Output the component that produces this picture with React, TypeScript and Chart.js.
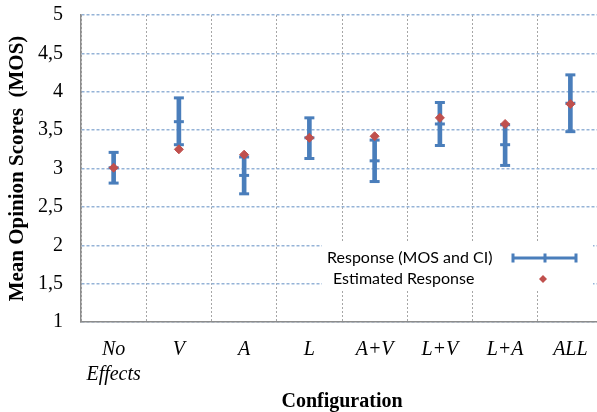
import React, { useEffect, useRef } from 'react';
import { Chart, registerables } from 'chart.js';

Chart.register(...registerables);

const categories: (string | string[])[] = [['No', 'Effects'], 'V', 'A', 'L', 'A+V', 'L+V', 'L+A', 'ALL'];
const mosMean = [3.01, 3.61, 2.91, 3.4, 3.1, 3.58, 3.31, 3.85];
const ciLower = [2.81, 3.31, 2.67, 3.13, 2.83, 3.3, 3.04, 3.48];
const ciUpper = [3.21, 3.92, 3.15, 3.66, 3.37, 3.86, 3.57, 4.22];
const estimated = [3.01, 3.25, 3.18, 3.4, 3.42, 3.66, 3.58, 3.84];
const yMin = 1;
const yMax = 5;
const yStep = 0.5;
const legendLabels = ['Response (MOS and CI)', 'Estimated Response'];

const BLUE = '#4A7EBB';
const RED = '#C0504D';
const SERIF = "'Liberation Serif'";

const legendPlugin = {
  id: 'customLegend',
  afterDraw(chart: any) {
    const ctx = chart.ctx;
    ctx.save();
    ctx.fillStyle = '#ffffff';
    ctx.fillRect(322, 243, 271, 46);
    ctx.fillStyle = '#000';
    ctx.font = '16px Lato, "Noto Sans", sans-serif';
    ctx.textBaseline = 'middle';
    ctx.textAlign = 'left';
    ctx.fillText(legendLabels[0], 327, 258);
    ctx.fillText(legendLabels[1], 333, 279);
    // error bar symbol
    ctx.strokeStyle = BLUE;
    ctx.lineWidth = 3;
    ctx.beginPath();
    ctx.moveTo(513, 258);
    ctx.lineTo(576, 258);
    [513, 545, 576].forEach((cx) => {
      ctx.moveTo(cx, 253.5);
      ctx.lineTo(cx, 262.5);
    });
    ctx.stroke();
    // diamond
    ctx.fillStyle = RED;
    ctx.beginPath();
    ctx.moveTo(543, 275);
    ctx.lineTo(547, 279);
    ctx.lineTo(543, 283);
    ctx.lineTo(539, 279);
    ctx.closePath();
    ctx.fill();
    ctx.restore();
  },
};

export default function App() {
  const ref = useRef<HTMLCanvasElement>(null);
  useEffect(() => {
    const tickLine = {
      type: 'line' as const,
      showLine: false,
      pointStyle: 'line' as const,
      pointRadius: 5,
      pointBorderWidth: 3,
      borderColor: BLUE,
      backgroundColor: BLUE,
      order: 1,
    };
    const chart = new Chart(ref.current!, {
      type: 'bar',
      data: {
        labels: categories,
        datasets: [
          {
            type: 'line',
            label: 'Estimated Response',
            data: estimated,
            showLine: false,
            pointStyle: 'rectRot',
            pointRadius: 4.5,
            pointBorderWidth: 1,
            borderColor: RED,
            backgroundColor: RED,
            order: 0,
          } as any,
          { ...tickLine, label: 'upper', data: ciUpper } as any,
          { ...tickLine, label: 'lower', data: ciLower } as any,
          { ...tickLine, label: 'mean', data: mosMean } as any,
          {
            type: 'bar',
            label: 'CI',
            data: ciLower.map((l, i) => [l, ciUpper[i]]),
            barThickness: 4,
            backgroundColor: BLUE,
            borderSkipped: false,
            order: 2,
          } as any,
        ],
      },
      options: {
        responsive: false,
        animation: false,
        devicePixelRatio: 1,
        layout: { padding: { top: 15, right: 1, bottom: 0, left: 0 } },
        plugins: { legend: { display: false }, tooltip: { enabled: false } },
        scales: {
          x: {
            type: 'category',
            offset: true,
            grid: { offset: true, color: '#A6A6A6', lineWidth: 1, drawTicks: false },
            border: { color: '#8C8C8C', width: 1.5, dash: [2, 2] },
            ticks: {
              font: { family: SERIF, size: 20, style: 'italic', lineHeight: 1.25 },
              color: '#000',
              padding: 15,
              maxRotation: 0,
              autoSkip: false,
            },
            title: {
              display: true,
              text: 'Configuration',
              color: '#000',
              font: { family: SERIF, size: 20, weight: 'bold' },
              padding: { top: 0, bottom: -2 },
            },
            afterFit: (s: any) => {
              s.height = 90;
            },
          } as any,
          y: {
            min: yMin,
            max: yMax,
            ticks: {
              stepSize: yStep,
              padding: 18,
              color: '#000',
              font: { family: SERIF, size: 20 },
              callback: (v: any) => String(v).replace('.', ','),
            },
            grid: { color: '#95B3D7', lineWidth: 1.5, drawTicks: false },
            border: { color: '#8C8C8C', width: 1.5, dash: [3, 2] },
            title: {
              display: true,
              text: 'Mean Opinion Scores  (MOS)',
              color: '#000',
              font: { family: SERIF, size: 21, weight: 'bold' },
              padding: { top: 5, bottom: 0 },
            },
            afterFit: (s: any) => {
              s.width = 81;
              s.paddingTop = 0;
              s.paddingBottom = 0;
            },
          } as any,
        },
      },
      plugins: [legendPlugin],
    });
    return () => chart.destroy();
  }, []);
  return (
    <div
      style={{
        position: 'fixed',
        left: 0,
        top: 0,
        width: 597,
        height: 412,
        overflow: 'hidden',
        background: '#fff',
      }}
    >
      <canvas ref={ref} width={611} height={412} style={{ display: 'block', width: 611, height: 412 }} />
    </div>
  );
}
